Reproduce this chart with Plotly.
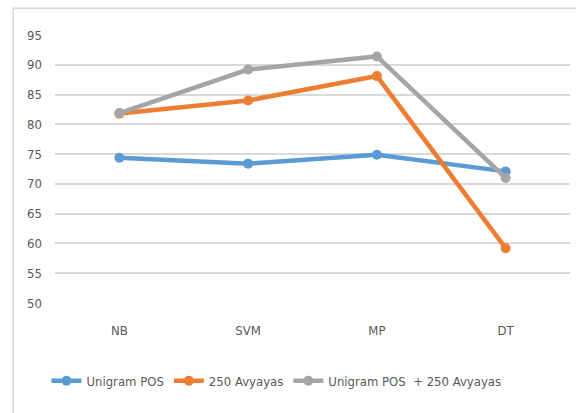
import plotly.graph_objects as go

categories = ["NB", "SVM", "MP", "DT"]
unigram_pos = [74.4, 73.4, 74.9, 72.1]
avyayas_250 = [81.8, 84.0, 88.1, 59.2]
unigram_plus_avyayas = [81.9, 89.2, 91.4, 71.0]
y_ticks = [50, 55, 60, 65, 70, 75, 80, 85, 90, 95]

series = [
    ("Unigram POS", unigram_pos, "#5b9bd5"),
    ("250 Avyayas", avyayas_250, "#ed7d31"),
    ("Unigram POS  + 250 Avyayas", unigram_plus_avyayas, "#a5a5a5"),
]

font_family = "DejaVu Sans Condensed, Liberation Sans Narrow, sans-serif"
text_color = "#595959"

fig = go.Figure()
for name, vals, color in series:
    fig.add_trace(go.Scatter(
        x=categories, y=vals, name=name, mode="lines+markers",
        line=dict(color=color, width=4.5),
        marker=dict(color=color, size=10, symbol="circle"),
    ))

fig.update_layout(
    width=576, height=413,
    margin=dict(l=55, r=6, t=35, b=110),
    paper_bgcolor="white", plot_bgcolor="white",
    font=dict(family=font_family, size=13, color=text_color),
    showlegend=True,
    legend=dict(
        orientation="h", x=0.43, xanchor="center", y=-0.29, yanchor="middle",
        font=dict(family=font_family, size=13, color=text_color),
        itemwidth=30, tracegroupgap=0,
    ),
    xaxis=dict(
        range=[-0.5, 3.5], showgrid=False, zeroline=False, showline=False,
        ticks="", ticklabelstandoff=18,
        tickfont=dict(size=13, color=text_color),
    ),
    yaxis=dict(
        range=[50, 95], tickvals=y_ticks, showgrid=True,
        gridcolor="#d9d9d9", gridwidth=1.5, zeroline=False, showline=False,
        ticks="", ticklabelstandoff=12,
        tickfont=dict(size=13, color=text_color),
    ),
    shapes=[dict(
        type="rect", xref="paper", yref="paper",
        x0=-0.081, x1=1.2, y0=-0.5, y1=1.1,
        line=dict(color="#d9d9d9", width=1.5), fillcolor="rgba(0,0,0,0)",
        layer="below",
    )],
)

fig.write_html("out.html")
